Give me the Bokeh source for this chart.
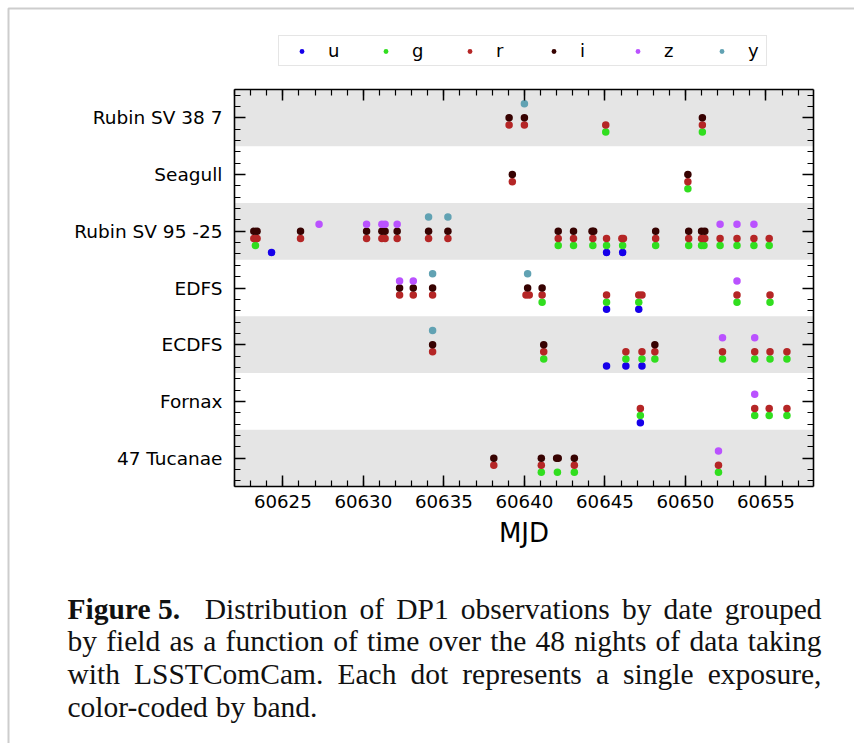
from bokeh.plotting import figure
from bokeh.models import (ColumnDataSource, BoxAnnotation, Legend, LegendItem,
                          FixedTicker, SingleIntervalTicker, LinearAxis, Range1d, Label,
                          CustomJSTickFormatter, PrintfTickFormatter)
from bokeh.embed import file_html
from bokeh.resources import INLINE

# Fields, bottom to top
FIELDS = ["47 Tucanae", "Fornax", "ECDFS", "EDFS", "Rubin SV 95 -25", "Seagull", "Rubin SV 38 7"]
BANDS = ["u", "g", "r", "i", "z", "y"]
BAND_COLORS = ["#1600ea", "#31de1f", "#b52626", "#370201", "#ba52ff", "#61a2b3"]

# Exposures per band: MJD and field
u_mjd = [60624.3, 60645.1, 60646.1, 60645.1, 60647.1, 60645.1, 60646.3, 60647.3, 60647.2]
u_field = ["Rubin SV 95 -25", "Rubin SV 95 -25", "Rubin SV 95 -25", "EDFS", "EDFS",
           "ECDFS", "ECDFS", "ECDFS", "Fornax"]

g_mjd = [60645.05, 60651.05,
         60650.15,
         60623.3, 60642.1, 60643.05, 60644.25, 60645.1, 60646.1, 60648.15, 60650.2,
         60651.0, 60651.15, 60652.15, 60653.2, 60654.25, 60655.2,
         60641.1, 60645.1, 60647.1, 60653.2, 60655.25,
         60641.2, 60646.3, 60647.3, 60648.1, 60652.3, 60654.3, 60655.25, 60656.3,
         60647.2, 60654.3, 60655.2, 60656.3,
         60641.05, 60642.05, 60643.1, 60652.05]
g_field = (["Rubin SV 38 7"] * 2 + ["Seagull"] * 1 + ["Rubin SV 95 -25"] * 14 +
           ["EDFS"] * 5 + ["ECDFS"] * 8 + ["Fornax"] * 4 + ["47 Tucanae"] * 4)

r_mjd = [60639.05, 60640.0, 60645.05, 60651.05,
         60639.25, 60650.15,
         60623.2, 60623.4, 60626.1, 60630.2, 60631.15, 60631.35, 60632.1, 60634.05,
         60635.25, 60642.1, 60643.05, 60644.25, 60645.1, 60646.05, 60646.15, 60648.15,
         60650.2, 60651.0, 60651.2, 60652.15, 60653.2, 60654.25, 60655.2,
         60632.25, 60633.1, 60634.3, 60640.1, 60640.3, 60641.1, 60645.1, 60647.1,
         60647.3, 60653.2, 60655.25,
         60634.3, 60641.2, 60646.3, 60647.3, 60648.1, 60652.3, 60654.3, 60655.25, 60656.3,
         60647.2, 60654.3, 60655.2, 60656.3,
         60638.1, 60641.05, 60643.1, 60652.05]
r_field = (["Rubin SV 38 7"] * 4 + ["Seagull"] * 2 + ["Rubin SV 95 -25"] * 23 +
           ["EDFS"] * 11 + ["ECDFS"] * 9 + ["Fornax"] * 4 + ["47 Tucanae"] * 4)

i_mjd = [60639.05, 60640.0, 60651.05,
         60639.25, 60650.15,
         60623.2, 60623.4, 60626.1, 60630.2, 60631.15, 60631.35, 60632.1, 60634.05,
         60635.25, 60642.1, 60643.05, 60644.2, 60644.3, 60648.15, 60650.2, 60651.0, 60651.2,
         60632.25, 60633.1, 60634.3, 60640.2, 60641.1,
         60634.3, 60641.2, 60648.1,
         60638.1, 60641.05, 60642.0, 60642.1, 60643.1]
i_field = (["Rubin SV 38 7"] * 3 + ["Seagull"] * 2 + ["Rubin SV 95 -25"] * 17 +
           ["EDFS"] * 5 + ["ECDFS"] * 3 + ["47 Tucanae"] * 5)

z_mjd = [60627.25, 60630.2, 60631.15, 60631.35, 60632.1, 60652.15, 60653.2, 60654.25,
         60632.25, 60633.1, 60653.2,
         60652.3, 60654.3,
         60654.3,
         60652.05]
z_field = (["Rubin SV 95 -25"] * 8 + ["EDFS"] * 3 + ["ECDFS"] * 2 + ["Fornax"] * 1 +
           ["47 Tucanae"] * 1)

y_mjd = [60640.0, 60634.05, 60635.25, 60634.3, 60640.2, 60634.3]
y_field = ["Rubin SV 38 7", "Rubin SV 95 -25", "Rubin SV 95 -25", "EDFS", "EDFS", "ECDFS"]

BAND_DATA = {"u": (u_mjd, u_field), "g": (g_mjd, g_field), "r": (r_mjd, r_field),
             "i": (i_mjd, i_field), "z": (z_mjd, z_field), "y": (y_mjd, y_field)}

# vertical offset of each band inside its field row
BAND_STEP = 0.125
BAND_OFFSET = {"u": -3, "g": -2, "r": -1, "i": 0, "z": 1, "y": 2}

CAPTION_LINES = [
    "Figure 5. Distribution of DP1 observations by date grouped",
    "by field as a function of time over the 48 nights of data taking",
    "with LSSTComCam. Each dot represents a single exposure,",
    "color-coded by band.",
]

# ---- page geometry (pixels) --------------------------------------------------
PAGE_W, PAGE_H = 854, 743
AX_L, AX_R, AX_T, AX_B = 234, 813, 89, 486      # axes box on the page
X_LO, X_HI = 60622.0, 60657.95                   # MJD limits of the axes box
Y_LO, Y_HI = -0.5, len(FIELDS) - 0.5

# The frame covers the whole page; axes are pinned to the axes box so that the
# legend, the caption and the page rule can live anywhere on the page.
sx = (X_HI - X_LO) / (AX_R - AX_L)
sy = (Y_HI - Y_LO) / (AX_B - AX_T)
x_range = Range1d(X_LO - AX_L * sx, X_HI + (PAGE_W - AX_R) * sx)
y_range = Range1d(Y_LO - (PAGE_H - AX_B) * sy, Y_HI + AX_T * sy)

p = figure(width=PAGE_W, height=PAGE_H, output_backend="svg", toolbar_location=None,
           x_range=x_range, y_range=y_range, min_border=0, x_axis_label="MJD")
p.grid.visible = False
p.outline_line_color = None
p.background_fill_color = "white"
p.border_fill_color = "white"

# alternating shaded rows
for k in range(0, len(FIELDS), 2):
    p.add_layout(BoxAnnotation(left=X_LO, right=X_HI, bottom=k - 0.5, top=k + 0.5,
                               fill_color="#e5e5e5", fill_alpha=1.0, line_color=None,
                               level="underlay"))

renderers = {}
for band, color in zip(BANDS, BAND_COLORS):
    mjd, field = BAND_DATA[band]
    yy = [FIELDS.index(f) + BAND_OFFSET[band] * BAND_STEP for f in field]
    src = ColumnDataSource(dict(x=mjd, y=yy))
    renderers[band] = p.scatter("x", "y", source=src, size=7.5, fill_color=color,
                                line_color=None)

y_minor = [k + d for k in range(len(FIELDS)) for d in (-0.4, -0.2, 0.2, 0.4)]


def style_axis(ax, bounds):
    ax.bounds = bounds
    ax.axis_line_color = "black"
    ax.axis_line_width = 1.6
    ax.major_tick_in = 11
    ax.major_tick_out = 0
    ax.minor_tick_in = 6
    ax.minor_tick_out = 0
    ax.major_tick_line_color = "black"
    ax.major_tick_line_width = 1.5
    ax.minor_tick_line_color = "black"
    ax.minor_tick_line_width = 1.2


xb = p.xaxis[0]
xb.fixed_location = Y_LO
xb.ticker = SingleIntervalTicker(interval=5, num_minor_ticks=5)
xb.formatter = PrintfTickFormatter(format="%d")
style_axis(xb, (X_LO, X_HI))
xb.major_label_text_font = "DejaVu Sans"
xb.major_label_text_font_size = "18.2px"
xb.major_label_text_color = "black"
xb.major_label_standoff = 8
xb.axis_label_text_font = "DejaVu Sans"
xb.axis_label_text_font_size = "26px"
xb.axis_label_text_font_style = "normal"
xb.axis_label_text_color = "black"
xb.axis_label_standoff = 7

yl = p.yaxis[0]
yl.fixed_location = X_LO
yl.ticker = FixedTicker(ticks=list(range(len(FIELDS))), minor_ticks=y_minor)
yl.major_label_overrides = {k: name for k, name in enumerate(FIELDS)}
style_axis(yl, (Y_LO, Y_HI))
yl.major_label_text_font = "DejaVu Sans"
yl.major_label_text_font_size = "18.5px"
yl.major_label_text_color = "black"
yl.major_label_standoff = 12

blank = CustomJSTickFormatter(code="return ''")
top_ax = LinearAxis(ticker=SingleIntervalTicker(interval=5, num_minor_ticks=5),
                    formatter=blank, fixed_location=Y_HI)
style_axis(top_ax, (X_LO, X_HI))
p.add_layout(top_ax, "above")
right_ax = LinearAxis(ticker=FixedTicker(ticks=list(range(len(FIELDS))), minor_ticks=y_minor),
                      formatter=blank, fixed_location=X_HI)
style_axis(right_ax, (Y_LO, Y_HI))
p.add_layout(right_ax, "right")

# legend box: left edge and bottom edge in page pixels (origin bottom-left)
legend = Legend(items=[LegendItem(label=b, renderers=[renderers[b]]) for b in BANDS],
                orientation="horizontal", location=(278, PAGE_H - 66), margin=0, padding=4,
                glyph_width=37, glyph_height=12, label_height=21, label_standoff=8,
                label_width=14, spacing=25, border_line_color="#cccccc",
                border_line_width=1.2, label_text_font="DejaVu Sans",
                label_text_font_size="18px", label_text_color="black",
                background_fill_color="white", background_fill_alpha=1.0)
p.add_layout(legend)

# page rule along the left and top edges
p.add_layout(BoxAnnotation(left=8, right=PAGE_W + 50, top=8, bottom=PAGE_H + 50,
                           left_units="canvas", right_units="canvas",
                           top_units="canvas", bottom_units="canvas",
                           fill_color=None, line_color="#5a5a5a", line_width=2))

# ---- caption, justified with Times-compatible advance widths ------------------
ROMAN = {" ": 250, ",": 250, "-": 333, ".": 250}
ROMAN.update({d: 500 for d in "0123456789"})
ROMAN.update(dict(zip("ABCDEFGHIJKLMNOPQRSTUVWXYZ",
                      [722, 667, 667, 722, 611, 556, 722, 722, 333, 389, 722, 611, 889,
                       722, 722, 556, 722, 667, 556, 611, 722, 722, 944, 722, 722, 611])))
ROMAN.update(dict(zip("abcdefghijklmnopqrstuvwxyz",
                      [444, 500, 444, 500, 444, 333, 500, 500, 278, 278, 500, 278, 778,
                       500, 500, 500, 500, 333, 389, 278, 500, 500, 722, 500, 500, 444])))
BOLD = dict(ROMAN)
BOLD.update({"F": 611, "u": 556, "r": 444})

CAP_FONT = "Liberation Serif"
CAP_SIZE = 29.5
CAP_LEFT, CAP_RIGHT = 67, 821
CAP_BASE, CAP_LEAD = 608, 32.8


def advance(s, table):
    return sum(table.get(c, 500) for c in s) * CAP_SIZE / 1000.0


for li, line in enumerate(CAPTION_LINES):
    words = line.split(" ")
    tokens = []
    if li == 0:
        tokens.append((" ".join(words[:2]), True))
        words = words[2:]
    tokens += [(w, False) for w in words]
    widths = [advance(t, BOLD if b else ROMAN) for t, b in tokens]
    weights = [2.0 if (li == 0 and j == 0) else 1.0 for j in range(len(tokens) - 1)]
    if li < len(CAPTION_LINES) - 1:
        unit = (CAP_RIGHT - CAP_LEFT - sum(widths)) / sum(weights)
    else:
        unit = advance(" ", ROMAN)
    x = CAP_LEFT
    base = CAP_BASE + li * CAP_LEAD
    for j, ((t, b), w) in enumerate(zip(tokens, widths)):
        p.add_layout(Label(x=x, y=base, x_units="canvas", y_units="canvas", text=t,
                           text_font=CAP_FONT, text_font_size=f"{CAP_SIZE}px",
                           text_font_style="bold" if b else "normal",
                           text_color="#111111", text_baseline="alphabetic",
                           text_align="left"))
        if j < len(weights):
            x += w + unit * weights[j]

open("out.html", "w").write(file_html(p, INLINE))
